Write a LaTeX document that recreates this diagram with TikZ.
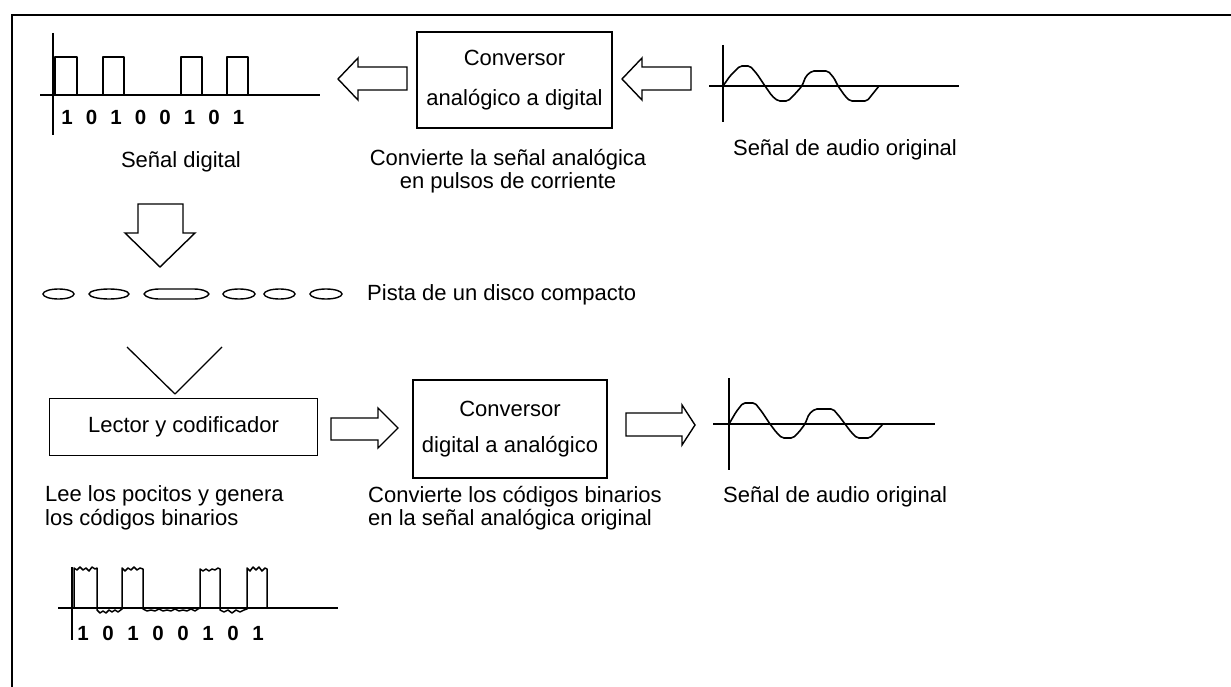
\documentclass[tikz,border=0pt]{standalone}
\usepackage{fontspec}
\setmainfont{Liberation Sans}
\begin{document}
\begin{tikzpicture}[x=1pt,y=-1pt,
  frame/.style={line width=2pt,black},
  axis/.style={line width=1.8pt,black},
  sig/.style={line width=1.6pt,black,line join=round},
  box/.style={draw,line width=1.8pt,align=center,inner sep=0pt,font=\fontsize{22}{26}\selectfont},
  blk/.style={draw,line width=1.4pt,fill=white,line join=miter},
  pit/.style={line width=1.4pt,black},
  lbl/.style={font=\fontsize{22}{23.5}\selectfont,inner sep=0pt},
  bit/.style={font=\fontsize{20.5}{22}\selectfont\bfseries,inner sep=0pt}]
\useasboundingbox (0,0) rectangle (1231,687);
% frame
\draw[frame] (12,687) -- (12,15) -- (1231,15);

% ---- top digital signal
\draw[axis] (53,33) -- (53,135);
\draw[axis] (40,95) -- (320,95);
\foreach \a/\b in {55/77,103/124,181/202,227/248}
  \draw[sig] (\a,95) |- (\b,57) -- (\b,95);
\foreach \d [count=\i from 0] in {1,0,1,0,0,1,0,1}
  \node[bit] (bt\i) at ({67+24.5*\i},117) {\d};
\node[lbl] (sdig) at (181,162) {Señal digital};

% ---- ADC
\node[box,minimum width=195pt,minimum height=96pt] (adc) at (514.5,80)
  {Conversor\\[14pt]analógico a digital};
\node[lbl,align=center] (adctext) at (508,171)
  {Convierte la señal analógica\\en pulsos de corriente};
% block arrows (pointing left)
\draw[blk] (338,79) -- (358,58) -- (358,67) -- (407,67) -- (407,90) -- (358,90) -- (358,100) -- cycle;
\draw[blk] (622,79) -- (642,58) -- (642,67) -- (691,67) -- (691,90) -- (642,90) -- (642,100) -- cycle;

% ---- top analog signal
\draw[axis] (723,45) -- (723,122);
\draw[axis] (709,86) -- (959,86);
\draw[sig,rounded corners=2pt] (723,86) -- (730,76) -- (740,66) -- (750,66) -- (757,74) -- (765,86)
  -- (772,96) -- (778,101) -- (788,101) -- (795,94) -- (802,86) -- (806,76) -- (812,71)
  -- (828,71) -- (834,78) -- (838,86) -- (845,96) -- (850,101) -- (867,101) -- (879,86);
\node[lbl] (aud1) at (845,150) {Señal de audio original};

% ---- down arrow
\draw[blk] (160,267) -- (125,233) -- (138,233) -- (138,204) -- (183,204) -- (183,233) -- (195,233) -- cycle;

% ---- track pits
\draw[pit] (58.5,294) ellipse [x radius=15.5pt,y radius=5pt];
\draw[pit] (109,294) ellipse [x radius=20pt,y radius=5pt];
\draw[pit] (144,294) .. controls (146,290.5) and (152,289) .. (160,289) -- (193,289)
  .. controls (201,289) and (207,290.5) .. (209,294) .. controls (207,297.5) and (201,299) .. (193,299)
  -- (160,299) .. controls (152,299) and (146,297.5) .. (144,294) -- cycle;
\draw[pit] (239,294) ellipse [x radius=16pt,y radius=5pt];
\draw[pit] (279.5,294) ellipse [x radius=15.5pt,y radius=5pt];
\draw[pit] (326,294) ellipse [x radius=16pt,y radius=5pt];
\node[lbl,anchor=west] (pista) at (367,295) {Pista de un disco compacto};

% ---- reader
\node[box,minimum width=268pt,minimum height=57pt] (lector) at (183.5,427) {Lector y codificador};
\coordinate (vl) at (127,347);
\coordinate (vr) at (222,347);
\coordinate (vt) at (175,394);
\draw[sig,line width=1.3pt] (vl) -- (vt) -- (vr);

% ---- DAC
\node[box,minimum width=194pt,minimum height=98pt] (dac) at (510,429)
  {Conversor\\[10pt]digital a analógico};
\draw[blk] (398,428) -- (378,408) -- (378,418) -- (331,418) -- (331,440) -- (378,440) -- (378,448) -- cycle;
\draw[blk] (695,425) -- (682,405) -- (682,413) -- (626,413) -- (626,436) -- (682,436) -- (682,445) -- cycle;

% ---- bottom analog signal
\draw[axis] (729,378) -- (729,470);
\draw[axis] (713,424) -- (935,424);
\draw[sig,rounded corners=2pt] (729,424) -- (736,412) -- (743,403) -- (755,403) -- (762,412) -- (770,424)
  -- (776,432) -- (782,438) -- (793,438) -- (799,432) -- (805,424) -- (809,414) -- (815,409)
  -- (833,409) -- (839,416) -- (845,424) -- (851,432) -- (857,438) -- (870,438) -- (883,424);
\node[lbl,anchor=west] (aud2) at (723,497) {Señal de audio original};

% ---- bottom texts
\node[lbl,anchor=west,align=left] (leetext) at (45,508)
  {Lee los pocitos y genera\\los códigos binarios};
\node[lbl,anchor=west,align=left] (dactext) at (368,508)
  {Convierte los códigos binarios\\en la señal analógica original};

% ---- noisy digital signal
\draw[axis] (72,567) -- (72,640);
\draw[axis] (58,608) -- (338,608);
\draw[sig,line width=1.5pt] (74,608) -- (74,568) -- (77,570) -- (80,567) -- (83,570) -- (86,568) -- (89,571)
  -- (92,567) -- (95,569) -- (97,568) -- (97,610) -- (100,613) -- (103,611) -- (106,613) -- (109,610)
  -- (112,612) -- (115,610) -- (118,612) -- (122,609) -- (122,568) -- (125,571) -- (128,568) -- (131,570)
  -- (134,567) -- (137,570) -- (140,568) -- (143,569) -- (143,609) -- (147,611) -- (151,610) -- (155,611)
  -- (159,609) -- (163,611) -- (167,610) -- (171,611) -- (175,609) -- (179,611) -- (183,610) -- (187,611)
  -- (191,609) -- (195,611) -- (198,609) -- (200,608) -- (200,569) -- (203,571) -- (206,569) -- (209,571)
  -- (212,569) -- (215,570) -- (218,568) -- (220,569) -- (220,610) -- (224,612) -- (228,610) -- (232,613)
  -- (236,610) -- (240,612) -- (244,610) -- (247,609) -- (247,568) -- (250,571) -- (253,567) -- (256,570)
  -- (259,567) -- (262,571) -- (265,568) -- (267,569) -- (267,608);
\foreach \d [count=\i from 0] in {1,0,1,0,0,1,0,1}
  \node[bit] (bb\i) at ({83+25*\i},633) {\d};
\end{tikzpicture}
\end{document}
